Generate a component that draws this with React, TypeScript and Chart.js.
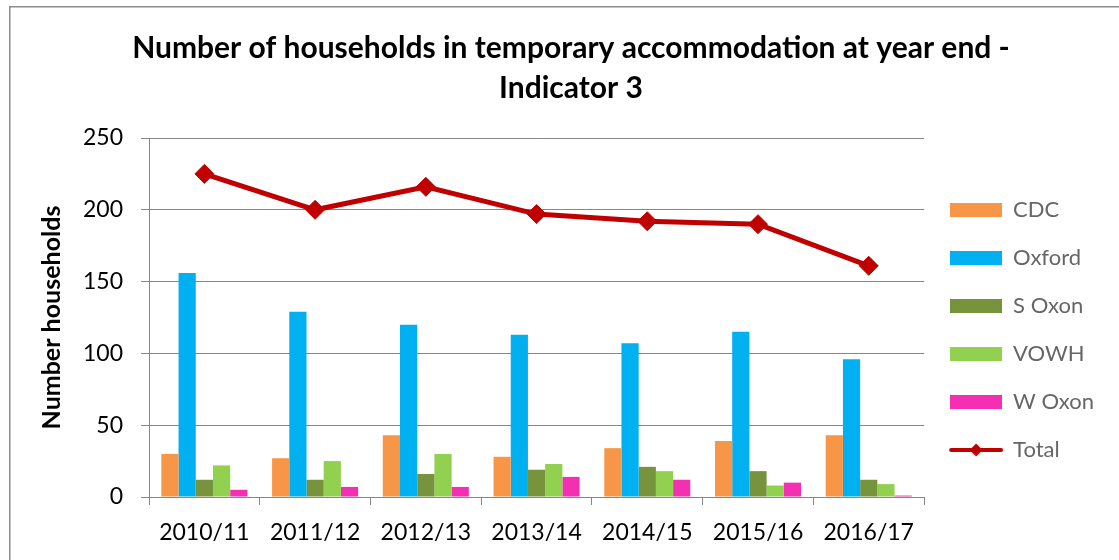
import React, { useEffect, useRef } from 'react';
import { Chart, registerables } from 'chart.js';

Chart.register(...registerables);

const categories = ['2010/11', '2011/12', '2012/13', '2013/14', '2014/15', '2015/16', '2016/17'];
const cdc = [30, 27, 43, 28, 34, 39, 43];
const oxford = [156, 129, 120, 113, 107, 115, 96];
const sOxon = [12, 12, 16, 19, 21, 18, 12];
const vowh = [22, 25, 30, 23, 18, 8, 9];
const wOxon = [5, 7, 7, 14, 12, 10, 1];
const total = [225, 200, 216, 197, 192, 190, 161];

const seriesLabels = ['CDC', 'Oxford', 'S Oxon', 'VOWH', 'W Oxon', 'Total'];
const seriesColors = ['#F79646', '#00B0F0', '#77933C', '#92D050', '#F42FB2', '#C00000'];
const titleLines = ['Number of households in temporary accommodation at year end -', 'Indicator 3'];
const yTitle = 'Number households';

const FONT = 'Lato';
const GRID = '#878787';

function boxImage(color: string): HTMLCanvasElement {
  const c = document.createElement('canvas');
  c.width = 52;
  c.height = 14;
  const ctx = c.getContext('2d')!;
  ctx.fillStyle = color;
  ctx.fillRect(0, 0, 52, 14);
  return c;
}

function lineImage(color: string): HTMLCanvasElement {
  const c = document.createElement('canvas');
  c.width = 56;
  c.height = 16;
  const ctx = c.getContext('2d')!;
  ctx.strokeStyle = color;
  ctx.lineWidth = 4;
  ctx.lineCap = 'round';
  ctx.beginPath();
  ctx.moveTo(3, 8);
  ctx.lineTo(53, 8);
  ctx.stroke();
  ctx.fillStyle = color;
  ctx.beginPath();
  ctx.moveTo(28, 1.5);
  ctx.lineTo(34.5, 8);
  ctx.lineTo(28, 14.5);
  ctx.lineTo(21.5, 8);
  ctx.closePath();
  ctx.fill();
  return c;
}

const framePlugin = {
  id: 'frame',
  beforeDraw(chart: any) {
    const ctx = chart.ctx;
    ctx.save();
    ctx.strokeStyle = '#8C8C8C';
    ctx.lineWidth = 1.5;
    ctx.beginPath();
    ctx.moveTo(9.75, chart.height + 5);
    ctx.lineTo(9.75, 6.75);
    ctx.lineTo(chart.width + 5, 6.75);
    ctx.stroke();
    ctx.restore();
  },
};

export default function App() {
  const ref = useRef<HTMLCanvasElement>(null);

  useEffect(() => {
    document.body.style.margin = '0';
    const canvas = ref.current;
    if (!canvas) return;
    const images = [
      boxImage(seriesColors[0]),
      boxImage(seriesColors[1]),
      boxImage(seriesColors[2]),
      boxImage(seriesColors[3]),
      boxImage(seriesColors[4]),
      lineImage(seriesColors[5]),
    ];
    const barSeries = [cdc, oxford, sOxon, vowh, wOxon];
    const datasets: any[] = barSeries.map((d, i) => ({
      type: 'bar',
      label: seriesLabels[i],
      data: d,
      backgroundColor: seriesColors[i],
      borderWidth: 0,
      categoryPercentage: 0.777,
      barPercentage: 1,
      order: 1,
    }));
    datasets.push({
      type: 'line',
      label: seriesLabels[5],
      data: total,
      borderColor: seriesColors[5],
      backgroundColor: seriesColors[5],
      borderWidth: 5,
      pointStyle: 'rectRot',
      pointRadius: 9.5,
      pointBackgroundColor: seriesColors[5],
      pointBorderColor: seriesColors[5],
      pointBorderWidth: 1,
      tension: 0,
      order: 0,
    });

    const chart = new Chart(canvas, {
      type: 'bar',
      data: { labels: categories, datasets },
      plugins: [framePlugin],
      options: {
        responsive: false,
        animation: false,
        layout: { padding: { top: 0, left: 38, right: 15, bottom: 0 } },
        plugins: {
          title: {
            display: true,
            text: titleLines,
            color: '#000',
            font: { family: FONT, size: 30, weight: 'bold', lineHeight: '40px' },
            padding: { top: 28, bottom: 30 },
          },
          legend: {
            position: 'right',
            align: 'center',
            fullSize: false,
            title: {
              display: true,
              text: ' ',
              font: { family: FONT, size: 10, lineHeight: 1 },
              padding: { top: 15, bottom: 0 },
            },
            labels: {
              color: '#000',
              font: { family: FONT, size: 22 },
              usePointStyle: true,
              pointStyleWidth: 52,
              boxHeight: 14,
              padding: 26,
              generateLabels: (ch: any) =>
                ch.data.datasets.map((ds: any, i: number) => ({
                  text: ds.label,
                  pointStyle: images[i],
                  fillStyle: 'rgba(0,0,0,0)',
                  strokeStyle: 'rgba(0,0,0,0)',
                  lineWidth: 0,
                  hidden: !ch.isDatasetVisible(i),
                  datasetIndex: i,
                })),
            },
          },
          tooltip: { enabled: false },
        },
        scales: {
          x: {
            offset: true,
            grid: {
              display: true,
              drawOnChartArea: false,
              drawTicks: true,
              tickLength: 8,
              color: GRID,
              offset: true,
            },
            border: { color: GRID, width: 1 },
            ticks: { color: '#000', font: { family: FONT, size: 23 }, padding: 14 },
            afterFit: (s: any) => {
              s.height = 63;
            },
          },
          y: {
            min: 0,
            max: 250,
            ticks: { stepSize: 50, color: '#000', font: { family: FONT, size: 23 }, padding: 18 },
            grid: { color: GRID, tickLength: 8 },
            border: { color: GRID, width: 1 },
            title: {
              display: true,
              text: yTitle,
              color: '#000',
              font: { family: FONT, size: 25, weight: 'bold', lineHeight: 1 },
              padding: { top: 1, bottom: 0 },
            },
            afterFit: (s: any) => {
              s.width = 111;
            },
          },
        },
      } as any,
    });
    return () => chart.destroy();
  }, []);

  return (
    <div style={{ width: 1119, height: 560, position: 'relative' }}>
      <canvas ref={ref} width={1119} height={560} style={{ width: 1119, height: 560, display: 'block' }} />
    </div>
  );
}
